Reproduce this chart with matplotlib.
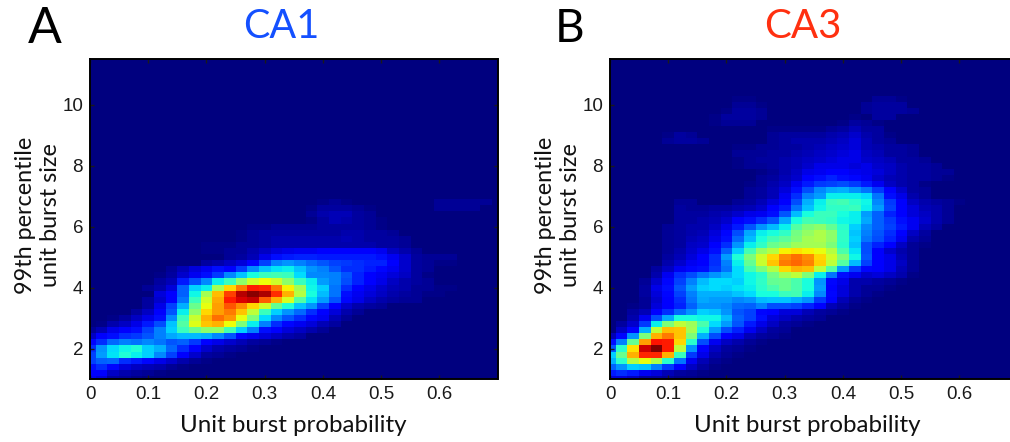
import numpy as np
import matplotlib
matplotlib.use('Agg')
import matplotlib.pyplot as plt

# heat map values, in percent of the colour range
# each row goes bottom to top, missing cells on the right are background
ca1_rows = [
    [10,8,3,2,1],
    [12,11,6,4,3,2,1],
    [14,17,13,8,6,5,4,2,1],
    [19,22,23,17,15,13,9,7,4,2,1],
    [19,28,35,39,36,33,26,19,11,7,3,2,1],
    [17,27,34,37,39,33,30,23,17,11,7,4,3,2,1],
    [13,17,23,25,24,26,24,21,22,18,12,9,7,5,3,2,1],
    [6,11,14,17,18,21,25,29,31,31,30,26,21,13,10,8,6,4,3],
    [2,5,9,11,14,19,25,33,42,48,52,53,43,33,25,14,11,8,6,4,2],
    [0,1,4,6,9,15,20,32,45,62,70,72,64,50,36,25,17,13,10,8,5,3],
    [0,0,1,3,6,9,14,26,42,59,72,79,75,63,50,34,26,21,17,13,10,5,2],
    [0,0,0,0,3,6,11,21,36,52,68,74,78,70,58,42,33,27,23,17,12,8,4,2],
    [0,0,0,0,0,3,9,19,30,48,63,74,82,76,68,60,47,39,32,27,19,12,7,4,3,2],
    [0,0,0,0,0,3,7,12,24,42,60,73,88,92,94,81,72,61,45,35,28,21,13,9,6,4,3,2,2],
    [0,0,0,0,0,0,8,12,22,37,55,71,84,95,99,96,86,72,57,38,31,24,14,10,8,6,4,3,2,1,1],
    [0,0,0,0,0,2,4,8,22,33,36,55,68,78,88,87,78,65,55,37,33,24,17,12,9,7,5,4,2,2,1,1],
    [0,0,0,0,0,0,3,5,15,20,26,36,42,52,60,64,60,52,42,36,28,25,20,16,12,9,6,4,3,2],
    [0,0,0,0,0,0,1,3,7,10,14,18,26,32,38,42,43,42,34,26,26,25,21,16,12,10,8,6,3,1],
    [0,0,0,0,0,0,0,2,5,8,10,14,12,18,26,32,35,36,32,27,25,21,17,17,15,13,10,7,3,2],
    [0,0,0,0,0,0,0,0,0,0,3,4,6,8,12,19,25,27,25,23,21,19,18,17,16,16,11,7,3,2,1,1],
    [0,0,0,0,0,0,0,0,0,0,0,0,2,3,5,9,14,15,16,16,15,15,15,15,15,14,10,7,3,2,2,2],
    [0,0,0,0,0,0,0,0,0,0,1,1,2,2,4,6,8,9,10,10,11,12,12,11,11,10,6,4,2],
    [0,0,0,0,0,0,0,0,0,0,1,1,1,2,2,3,4,4,4,4,4,4,4,4,4,3,3,2],
    [0,0,0,0,0,0,0,0,0,0,0,0,0,1,2,3,4,4,4,4,4,4,5,4,3,3,3,2],
    [0,0,0,0,0,0,0,0,0,0,0,0,0,1,2,3,3,3,3,3,3,3,4,4,3,3,2],
    [0,0,0,0,0,0,0,0,0,0,0,0,0,0,1,1,2,2,2,2,3,3,3,3,2,1],
    [0,0,0,0,0,0,0,0,0,0,0,0,0,0,0,0,0,0,0,1,3,5,4,3,2,1],
    [0,0,0,0,0,0,0,0,0,0,0,0,0,0,0,0,0,0,0,2,4,5,5,3,2],
    [0,0,0,0,0,0,0,0,0,0,0,0,0,0,0,0,0,0,0,1,3,3,3,2,1,0,0,0,0,0,2,2,2,2],
    [0,0,0,0,0,0,0,0,0,0,0,0,0,0,0,0,0,0,0,0,1,2,1,0,0,0,0,0,0,0,2,2,2,2,2],
]

ca3_rows = [
    [8,8,6,3,3,2,1,1],
    [15,17,15,10,8,5,3,2,1],
    [22,27,33,32,25,18,12,6,3,1],
    [30,40,57,63,56,40,24,10,5,2,1],
    [33,48,72,87,87,72,42,18,9,4,2,1],
    [21,40,67,93,100,88,58,27,12,6,3,2,1],
    [14,25,47,74,89,88,68,40,20,10,6,4,2,1],
    [5,13,27,50,72,78,70,50,30,20,12,9,5,3,2,1],
    [0,6,12,30,58,71,70,55,39,28,20,16,10,6,3,2],
    [0,3,7,18,36,50,58,54,44,34,28,21,15,9,6,3,2,1],
    [0,0,4,10,20,29,38,38,37,37,31,22,19,14,8,6,4,3,2],
    [0,0,3,5,12,17,23,27,33,32,27,21,19,13,11,8,8,5,3,2,1],
    [0,0,1,2,8,12,16,22,27,27,26,23,22,25,20,20,19,16,11,5,3,1],
    [0,0,0,2,7,12,17,24,29,28,28,26,27,31,32,32,30,27,18,11,5,2,1],
    [0,0,0,3,8,13,19,25,30,30,30,32,34,38,38,42,43,36,26,13,8,4,2,1],
    [0,0,0,3,9,14,21,28,33,34,33,35,36,40,44,48,44,38,28,12,8,4,2,2,1],
    [0,0,0,2,7,13,19,25,31,34,34,33,37,41,47,48,44,38,27,13,9,4,4,3,2,1],
    [0,0,0,0,4,10,17,20,24,27,30,34,37,40,49,55,58,50,36,24,14,10,7,8,6,4,1],
    [0,0,0,0,3,6,10,13,14,18,24,34,43,50,57,68,72,71,58,45,28,18,13,11,9,5,2],
    [0,0,0,0,0,4,7,10,12,17,25,36,47,59,70,78,80,77,69,58,45,31,19,12,9,6,2],
    [0,0,0,0,0,3,5,8,12,17,28,39,50,60,68,76,79,76,68,60,50,37,21,12,9,5,2],
    [0,0,0,0,0,2,4,7,9,14,22,33,43,53,57,65,67,65,63,57,44,35,20,11,7,4,2],
    [0,0,0,0,0,2,3,6,7,11,17,27,36,41,48,50,54,55,55,50,40,32,20,16,12,6,2,1],
    [0,0,0,0,0,2,3,5,6,9,14,23,31,38,43,46,50,55,56,52,41,33,24,20,16,10,4,2],
    [0,0,0,0,0,2,3,4,5,8,13,20,29,36,38,41,49,53,56,52,41,32,25,21,17,12,6,3],
    [0,0,0,0,0,2,3,4,4,6,9,15,21,27,31,36,45,50,52,47,40,33,26,22,19,15,10,5,3],
    [0,0,0,0,0,0,3,3,4,5,7,11,14,17,21,29,38,43,42,41,37,36,29,22,18,14,10,7,4,2],
    [0,0,0,0,0,0,3,3,3,4,5,7,9,10,14,21,31,38,42,42,38,36,28,22,16,12,8,6,4,2],
    [0,0,0,0,0,0,3,2,2,3,3,4,5,7,11,15,24,32,37,41,41,42,36,28,19,12,8,5,4,2],
    [0,0,0,0,0,0,2,2,0,0,0,2,3,5,8,12,20,30,36,42,43,40,37,26,18,11,6,4,3,2,1],
    [0,0,0,0,0,0,0,0,0,0,0,0,2,3,5,10,17,25,28,36,36,36,34,24,14,9,4,2],
    [0,0,0,0,0,0,0,0,0,0,0,0,2,3,5,8,14,20,26,29,30,27,24,18,12,7,3,2],
    [0,0,0,0,0,0,0,0,0,0,0,0,1,2,4,6,10,15,18,19,20,18,15,10,6,4,3,1],
    [0,0,0,0,0,0,0,0,0,0,0,0,0,2,3,5,7,11,14,16,14,13,10,7,5,4,3,3,2,1],
    [0,0,0,0,0,0,0,0,0,0,0,0,0,1,2,4,6,9,10,11,11,10,9,8,6,4,3,3,2,2],
    [0,0,0,0,0,0,0,0,0,0,0,1,2,2,3,4,5,7,9,9,9,8,9,7,6,4,3,3,2],
    [0,0,0,0,0,0,0,0,0,0,0,1,2,3,3,4,5,6,7,8,9,9,7,6,5,3,3,2],
    [0,0,0,0,0,0,0,0,0,0,0,2,2,2,3,3,4,5,6,7,8,9,6,5,3,3,2],
    [0,0,0,0,0,0,0,0,0,0,0,1,1,2,2,3,3,4,5,6,7,8,5,4,3,3,2],
    [0,0,0,0,0,2,3,3,2,0,0,0,0,0,2,3,4,4,4,5,6,8,5,3,2],
    [0,0,0,0,0,1,3,2,0,0,0,0,0,0,2,3,3,3,3,4,5,7,4,3,1],
    [0,0,0,0,0,0,0,0,0,0,0,0,0,0,1,1,1,1,1,2,3,5,3,3],
    [0,0,0,0,0,0,0,0,0,1,2,2,2,0,0,0,0,0,0,0,1,3,2,1],
    [0,0,0,0,0,0,0,0,0,1,3,3,3,2,0,0,0,0,0,0,0,1,0,3,3],
    [0,0,0,0,0,0,0,0,0,0,1,3,3,2,0,0,0,0,0,0,0,0,2,3,3,3,2],
    [0,0,0,0,0,0,0,0,0,0,0,2,2,1,0,0,0,0,0,0,0,0,2,3,3,3],
    [0,0,0,0,0,0,0,0,0,0,0,1,1,0,0,0,0,0,0,0,0,0,0,2,2,1],
]

x_ticks = [0, 0.1, 0.2, 0.3, 0.4, 0.5, 0.6]
x_tick_labels = ['0', '0.1', '0.2', '0.3', '0.4', '0.5', '0.6']
y_ticks = [2, 4, 6, 8, 10]

N_COLS = 36
N_ROWS = 53
W, H = 1010.0, 442.0
GILL = ['Lato', 'DejaVu Sans']


def to_grid(rows):
    grid = np.zeros((N_ROWS, N_COLS))
    for j, row in enumerate(rows):
        grid[j, :len(row)] = row
    return grid


def px_axes(fig, left, right, top, bottom):
    return fig.add_axes([left / W, 1 - bottom / H, (right - left) / W, (bottom - top) / H])


def draw_panel(ax, rows):
    # cells are centred on the 0.02 / 0.2 grid, so the first ones are cut in half
    ax.imshow(to_grid(rows), origin='lower', cmap='jet', vmin=0, vmax=100,
              aspect='auto', interpolation='nearest',
              extent=[-0.01, 0.71, 0.9, 11.5])
    ax.set_xlim(0, 0.7)
    ax.set_ylim(1, 11.5)
    ax.set_xticks(x_ticks)
    ax.set_xticklabels(x_tick_labels)
    ax.set_yticks(y_ticks)
    ax.tick_params(direction='in', top=True, right=True, length=3, width=1,
                   labelsize=13.5, colors='#1a1a1a', pad=5)
    for lab in ax.get_xticklabels() + ax.get_yticklabels():
        lab.set_fontfamily('Liberation Sans')
    for s in ax.spines.values():
        s.set_linewidth(1.4)


fig = plt.figure(figsize=(W / 100, H / 100), dpi=100)

ax1 = px_axes(fig, 90, 497.5, 59, 379)
draw_panel(ax1, ca1_rows)
ax2 = px_axes(fig, 610, 1017.5, 59, 379)
draw_panel(ax2, ca3_rows)


def put(x, y, s, **kw):
    fig.text(x / W, 1 - y / H, s, ha='center', va='center', family=GILL, **kw)


put(45, 29, 'A', fontsize=36, color='black')
put(570, 29, 'B', fontsize=33, color='black')
put(281, 27, 'CA1', fontsize=28.5, color='#1450ff')
put(803, 27, 'CA3', fontsize=29, color='#ff3010')
put(293, 425, 'Unit burst probability', fontsize=17.4, color='#111111')
put(807, 425, 'Unit burst probability', fontsize=17.4, color='#111111')
put(38, 215, '99th percentile\nunit burst size', fontsize=16.8, color='#111111',
    rotation=90, linespacing=1.25)
put(558, 215, '99th percentile\nunit burst size', fontsize=16.8, color='#111111',
    rotation=90, linespacing=1.25)

fig.savefig('out.png', dpi=100)
